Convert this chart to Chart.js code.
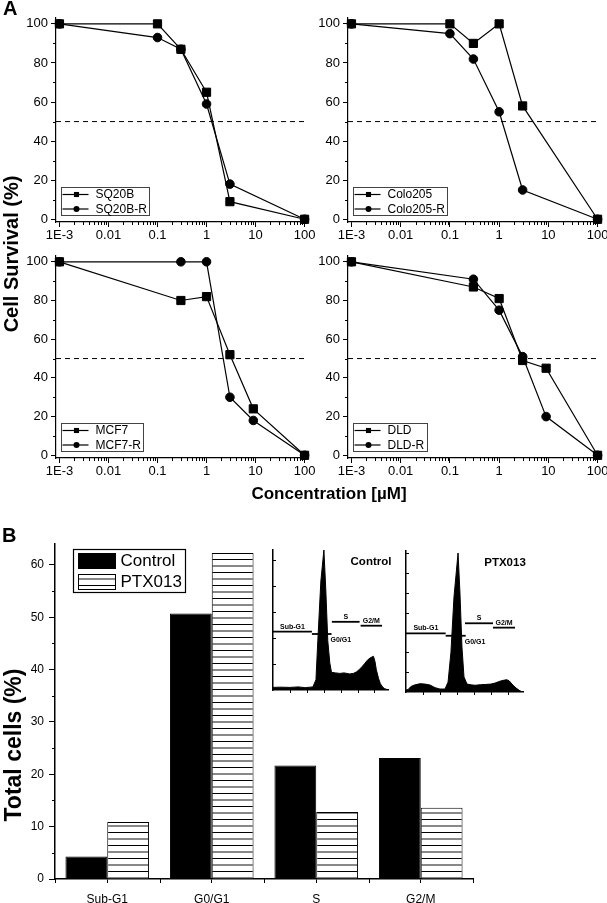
<!DOCTYPE html>
<html>
<head>
<meta charset="utf-8">
<script src="https://cdn.jsdelivr.net/npm/chart.js@4.4.0/dist/chart.umd.min.js"></script>
<style>
  body { margin: 0; background: #fff; }
  #page { position: relative; width: 607px; height: 903px; overflow: hidden; font-family: "Liberation Sans", Arial, sans-serif; }
  canvas { position: absolute; }
  .lbl { position: absolute; font-weight: bold; color: #000; white-space: nowrap; line-height: 1; }
  .rot { transform: translate(-50%, -50%) rotate(-90deg); }
  .ctr { transform: translate(-50%, -50%); }
</style>
</head>
<body>
<div id="page">
  <canvas id="a1" style="left:0;top:0" width="330" height="240"></canvas>
  <canvas id="a2" style="left:292px;top:0" width="330" height="240"></canvas>
  <canvas id="a3" style="left:0;top:238px" width="330" height="240"></canvas>
  <canvas id="a4" style="left:292px;top:238px" width="330" height="240"></canvas>
  <canvas id="b" style="left:0;top:520px" width="500" height="383"></canvas>
  <canvas id="insetControl" style="left:262px;top:540px" width="140" height="160"></canvas>
  <canvas id="insetPtx" style="left:396px;top:540px" width="140" height="160"></canvas>

  <div class="lbl" style="left:3px;top:-2px;font-size:20px">A</div>
  <div class="lbl" style="left:2px;top:525px;font-size:20px">B</div>
  <div class="lbl rot" style="left:11px;top:254px;font-size:20px">Cell Survival (%)</div>
  <div class="lbl ctr" style="left:329px;top:493px;font-size:17px">Concentration [µM]</div>
  <div class="lbl rot" style="left:13px;top:745px;font-size:23px">Total cells (%)</div>
</div>
<script>
// Panel A: survival curves
const logTicks = [0.001, 0.01, 0.1, 1, 10, 100];
const logTickLabels = ['1E-3', '0.01', '0.1', '1', '10', '100'];
const logMinorTicks = [0.002, 0.003, 0.004, 0.005, 0.006, 0.007, 0.008, 0.009,
  0.02, 0.03, 0.04, 0.05, 0.06, 0.07, 0.08, 0.09,
  0.2, 0.3, 0.4, 0.5, 0.6, 0.7, 0.8, 0.9,
  2, 3, 4, 5, 6, 7, 8, 9, 20, 30, 40, 50, 60, 70, 80, 90];
const survTicks = [0, 20, 40, 60, 80, 100];
const survMinorTicks = [10, 30, 50, 70, 90];
const halfLine = 50;

const sq20bConc = [0.001, 0.1, 0.3, 1, 3, 100];
const sq20b = [100, 100, 87, 65, 9, 0];
const sq20bR = [100, 93, 87, 59, 18, 0];

const colo205Conc = [0.001, 0.1, 0.3, 1, 3, 100];
const colo205 = [100, 100, 90, 100, 58, 0];
const colo205R = [100, 95, 82, 55, 15, 0];

const mcf7Conc = [0.001, 0.3, 1, 3, 9, 100];
const mcf7 = [100, 80, 82, 52, 24, 0];
const mcf7R = [100, 100, 100, 30, 18, 0];

const dldConc = [0.001, 0.3, 1, 3, 9, 100];
const dld = [100, 87, 81, 49, 45, 0];
const dldR = [100, 91, 75, 51, 20, 0];

// Panel B: cell cycle
const phases = ['Sub-G1', 'G0/G1', 'S', 'G2/M'];
const controlPct = [4.3, 50.7, 21.7, 23.1];
const ptxPct = [10.9, 62.3, 12.8, 13.6];
const pctTicks = [0, 10, 20, 30, 40, 50, 60];
const pctMinorTicks = [5, 15, 25, 35, 45, 55];
const catEdges = [-0.5, 0.5, 1.5, 2.5, 3.5];

// inset histograms (DNA content channel vs counts)
const controlBins = [0, 40, 100, 150, 190, 236, 254, 265, 283, 301, 312, 324, 336, 346, 370, 395, 420, 453, 475, 494, 512, 529, 545, 558, 575, 594, 603, 611, 624, 635, 648, 658, 680];
const controlCounts = [10, 11, 10, 12, 9, 12, 40, 190, 420, 540, 390, 190, 104, 68, 66, 64, 66, 62, 64, 70, 80, 92, 104, 115, 124, 130, 110, 78, 45, 24, 12, 6, 0];
const ptxBins = [0, 12, 29, 53, 83, 112, 142, 171, 200, 230, 248, 265, 283, 307, 318, 330, 342, 360, 385, 407, 440, 466, 500, 525, 545, 560, 580, 595, 610, 625, 649, 672, 688];
const ptxCounts = [10, 12, 28, 36, 42, 40, 35, 22, 15, 15, 50, 200, 480, 702, 505, 227, 76, 40, 36, 34, 37, 38, 40, 45, 52, 56, 60, 62, 55, 40, 20, 6, 0];
const controlGateStart = [0, 230, 348, 518];
const controlGateEnd = [230, 346, 512, 645];
const controlGateLevel = [225, 216, 263, 248];
const ptxGateStart = [0, 234, 348, 513];
const ptxGateEnd = [234, 352, 513, 643];
const ptxGateLevel = [296, 284, 347, 325];
const insetTicksX = [100, 200, 300, 400, 500, 600];
const controlTicksY = [100, 200, 300, 400, 500];
const ptxTicksY = [100, 200, 300, 400, 500, 600, 700];

const X_MIN = 8.5e-4, X_MAX = 102;
const Y_MIN = -1.4, Y_MAX = 103;
const FONT = '"Liberation Sans", Arial, Helvetica, sans-serif';

Chart.defaults.font.family = FONT;
Chart.defaults.color = '#000';
Chart.defaults.animation = false;

// small tick marks the axes don't draw themselves (minor / boundary / inward)
const extraTicks = {
  id: 'extraTicks',
  afterDraw(chart, args, opts) {
    const ctx = chart.ctx;
    ctx.save();
    ctx.strokeStyle = '#000';
    ctx.lineWidth = 1;
    (opts.list || []).forEach(t => {
      const scale = chart.scales[t.axis];
      t.values.forEach(v => {
        const p = Math.round(scale.getPixelForValue(v)) + 0.5;
        ctx.beginPath();
        if (scale.isHorizontal()) {
          ctx.moveTo(p, scale.top);
          ctx.lineTo(p, scale.top + t.len);
        } else {
          ctx.moveTo(scale.right, p);
          ctx.lineTo(scale.right - t.len, p);
        }
        ctx.stroke();
      });
    });
    ctx.restore();
  }
};

// boxed legend inside the plot, bottom left
const boxLegend = {
  id: 'boxLegend',
  afterDraw(chart, args, o) {
    if (!o.show) return;
    const ctx = chart.ctx, area = chart.chartArea;
    const items = chart.data.datasets.filter(d => d.label);
    ctx.save();
    ctx.font = '12px ' + FONT;
    const tw = Math.max(...items.map(d => ctx.measureText(d.label).width));
    const h = 28, w = Math.round(34 + tw + 3);
    const x0 = Math.round(area.left + 5) + 0.5;
    const y0 = Math.round(area.bottom - 7 - h) + 0.5;
    ctx.fillStyle = '#fff';
    ctx.fillRect(x0, y0, w, h);
    ctx.strokeStyle = '#444';
    ctx.lineWidth = 1;
    ctx.strokeRect(x0, y0, w, h);
    items.forEach((d, i) => {
      const cy = y0 + 7 + i * 14.5;
      ctx.strokeStyle = '#000';
      ctx.lineWidth = 1.2;
      ctx.beginPath();
      ctx.moveTo(x0 + 1, cy);
      ctx.lineTo(x0 + 27, cy);
      ctx.stroke();
      ctx.fillStyle = '#000';
      Chart.helpers.drawPoint(ctx, { pointStyle: d.pointStyle, radius: d.legendRadius, borderWidth: 0, rotation: 0 }, x0 + 15, cy);
      ctx.textBaseline = 'middle';
      ctx.textAlign = 'left';
      ctx.fillText(d.label, x0 + 34, cy + 0.5);
    });
    ctx.restore();
  }
};

// legend of the bar panel
const barLegend = {
  id: 'barLegend',
  afterDraw(chart, args, o) {
    if (!o.show) return;
    const ctx = chart.ctx, area = chart.chartArea;
    const x0 = Math.round(area.left + 18) + 0.5, y0 = Math.round(area.top + 5) + 0.5;
    ctx.save();
    ctx.fillStyle = '#fff';
    ctx.fillRect(x0, y0, 112, 43);
    ctx.strokeStyle = '#000';
    ctx.lineWidth = 1.2;
    ctx.strokeRect(x0, y0, 112, 43);
    ctx.font = '17px ' + FONT;
    chart.data.datasets.forEach((d, i) => {
      const sy = y0 + 4 + i * 21;
      ctx.fillStyle = d.backgroundColor;
      ctx.fillRect(x0 + 5, sy, 37, 15);
      ctx.strokeStyle = '#000';
      ctx.lineWidth = 1;
      ctx.strokeRect(x0 + 5, sy, 37, 15);
      ctx.fillStyle = '#000';
      ctx.textBaseline = 'middle';
      ctx.fillText(d.label, x0 + 47, sy + 8);
    });
    ctx.restore();
  }
};

// gate labels and title of the histogram insets
const insetText = {
  id: 'insetText',
  afterDatasetsDraw(chart, args, o) {
    if (!o.title) return;
    const ctx = chart.ctx, x = chart.scales.x, y = chart.scales.y, area = chart.chartArea;
    ctx.save();
    ctx.fillStyle = '#000';
    ctx.font = 'bold 7px ' + FONT;
    phases.forEach((name, i) => {
      const x0 = x.getPixelForValue(o.start[i]);
      const x1 = x.getPixelForValue(o.end[i]);
      const py = y.getPixelForValue(o.level[i]);
      if (i === 1) {
        ctx.textAlign = 'left';
        ctx.textBaseline = 'top';
        ctx.fillText(name, x1 - 1, py + 2.5);
      } else {
        ctx.textAlign = 'center';
        ctx.textBaseline = 'bottom';
        ctx.fillText(name, (x0 + x1) / 2, py - 1.5);
      }
    });
    ctx.font = 'bold 11.5px ' + FONT;
    ctx.textAlign = 'center';
    ctx.textBaseline = 'middle';
    ctx.fillText(o.title, area.right - o.titleDx, area.top + 12);
    ctx.restore();
  }
};

Chart.register(extraTicks, boxLegend, barLegend, insetText);

function survivalChart(id, conc, a, b, names, pad, xh) {
  const line = { borderColor: '#000', borderWidth: 1.2, pointBackgroundColor: '#000', pointBorderColor: '#000', pointBorderWidth: 1, clip: false, tension: 0 };
  return new Chart(document.getElementById(id), {
    type: 'line',
    data: {
      datasets: [
        Object.assign({ label: names[0], data: conc.map((x, i) => ({ x: x, y: a[i] })), pointStyle: 'rect', pointRadius: 5.8, legendRadius: 3.6 }, line),
        Object.assign({ label: names[1], data: conc.map((x, i) => ({ x: x, y: b[i] })), pointStyle: 'circle', pointRadius: 4.3, legendRadius: 3 }, line),
        { label: '', data: [{ x: X_MIN, y: halfLine }, { x: X_MAX, y: halfLine }], borderColor: '#000', borderWidth: 1, borderDash: [5, 4], pointRadius: 0 }
      ]
    },
    options: {
      responsive: false,
      devicePixelRatio: 1,
      layout: { padding: pad },
      plugins: {
        legend: { display: false },
        tooltip: { enabled: false },
        boxLegend: { show: true },
        extraTicks: { list: [{ axis: 'x', values: logMinorTicks, len: 3 }, { axis: 'y', values: survMinorTicks, len: 3 }] }
      },
      scales: {
        x: {
          type: 'logarithmic', min: X_MIN, max: X_MAX,
          afterBuildTicks: s => { s.ticks = logTicks.map(v => ({ value: v })); },
          afterFit: s => { s.height = xh; },
          ticks: { callback: (v, i) => logTickLabels[i], font: { size: 13 }, padding: 1, autoSkip: false, maxRotation: 0 },
          grid: { drawOnChartArea: false, tickLength: 5, tickColor: '#000' },
          border: { color: '#000', width: 1.2 }
        },
        y: {
          min: Y_MIN, max: Y_MAX,
          afterBuildTicks: s => { s.ticks = survTicks.map(v => ({ value: v })); },
          afterFit: s => { s.width = 56; },
          ticks: { font: { size: 13 }, padding: 3 },
          grid: { drawOnChartArea: false, tickLength: 5, tickColor: '#000' },
          border: { color: '#000', width: 1.2 }
        }
      }
    }
  });
}

survivalChart('a1', sq20bConc, sq20b, sq20bR, ['SQ20B', 'SQ20B-R'], { top: 18, right: 25, bottom: 0, left: 0 }, 18);
survivalChart('a2', colo205Conc, colo205, colo205R, ['Colo205', 'Colo205-R'], { top: 18, right: 24, bottom: 0, left: 0 }, 18);
survivalChart('a3', mcf7Conc, mcf7, mcf7R, ['MCF7', 'MCF7-R'], { top: 18, right: 25, bottom: 0, left: 0 }, 20);
survivalChart('a4', dldConc, dld, dldR, ['DLD', 'DLD-R'], { top: 18, right: 24, bottom: 0, left: 0 }, 20);

// striped fill for PTX013
const bCanvas = document.getElementById('b');
const tile = document.createElement('canvas');
tile.width = 8; tile.height = 13;
const tg = tile.getContext('2d');
tg.fillStyle = '#fff'; tg.fillRect(0, 0, 8, 13);
tg.fillStyle = '#000'; tg.fillRect(0, 0, 8, 1);
tg.fillStyle = '#888'; tg.fillRect(0, 6, 8, 2);
const stripes = bCanvas.getContext('2d').createPattern(tile, 'repeat');

new Chart(bCanvas, {
  type: 'bar',
  data: {
    labels: phases,
    datasets: [
      { label: 'Control', data: controlPct, backgroundColor: '#000', borderColor: '#000', borderWidth: 1, categoryPercentage: 0.8, barPercentage: 1 },
      { label: 'PTX013', data: ptxPct, backgroundColor: stripes, borderColor: '#000', borderWidth: 1, categoryPercentage: 0.8, barPercentage: 1 }
    ]
  },
  options: {
    responsive: false,
    devicePixelRatio: 1,
    layout: { padding: { top: 24, right: 27, bottom: 0, left: 0 } },
    plugins: {
      legend: { display: false },
      tooltip: { enabled: false },
      barLegend: { show: true },
      extraTicks: { list: [{ axis: 'x', values: catEdges, len: 4 }, { axis: 'y', values: pctMinorTicks, len: 3 }] }
    },
    scales: {
      x: {
        afterFit: s => { s.height = 24; },
        ticks: { font: { size: 12 }, padding: 9, maxRotation: 0 },
        grid: { offset: false, drawOnChartArea: false, tickLength: 4, tickColor: '#000' },
        border: { color: '#000', width: 1.5 }
      },
      y: {
        min: 0, max: 64,
        afterBuildTicks: s => { s.ticks = pctTicks.map(v => ({ value: v })); },
        afterFit: s => { s.width = 55; },
        ticks: { font: { size: 12 }, padding: 5 },
        grid: { drawOnChartArea: false, tickLength: 6, tickColor: '#000' },
        border: { color: '#000', width: 1.5 }
      }
    }
  }
});

function insetChart(id, bins, counts, gStart, gEnd, gLevel, title, o) {
  const gates = phases.map((p, i) => ({
    data: [{ x: gStart[i], y: gLevel[i] }, { x: gEnd[i], y: gLevel[i] }],
    borderColor: '#000', borderWidth: 1.8, pointRadius: 0
  }));
  return new Chart(document.getElementById(id), {
    type: 'line',
    data: {
      datasets: [{
        data: bins.map((x, i) => ({ x: x, y: counts[i] })),
        fill: 'origin', backgroundColor: '#000', borderColor: '#000', borderWidth: 1, pointRadius: 0, tension: 0
      }].concat(gates)
    },
    options: {
      responsive: false,
      devicePixelRatio: 1,
      layout: { padding: o.pad },
      plugins: {
        legend: { display: false },
        tooltip: { enabled: false },
        insetText: { title: title, start: gStart, end: gEnd, level: gLevel, titleDx: o.titleDx },
        extraTicks: { list: [{ axis: 'x', values: insetTicksX, len: 3 }, { axis: 'y', values: o.yTicks, len: -3 }] }
      },
      scales: {
        x: {
          type: 'linear', min: 0, max: o.xMax,
          afterFit: s => { s.height = o.xh; },
          ticks: { display: false },
          grid: { display: false },
          border: { color: '#000', width: 1.5 }
        },
        y: {
          min: 0, max: o.yMax,
          afterFit: s => { s.width = o.yw; },
          ticks: { display: false },
          grid: { display: false },
          border: { color: '#000', width: 1.5 }
        }
      }
    }
  });
}

insetChart('insetControl', controlBins, controlCounts, controlGateStart, controlGateEnd, controlGateLevel, 'Control',
  { pad: { top: 10, right: 14, bottom: 0, left: 0 }, xh: 10, yw: 11, xMax: 680, yMax: 540, yTicks: controlTicksY, titleDx: 17 });
insetChart('insetPtx', ptxBins, ptxCounts, ptxGateStart, ptxGateEnd, ptxGateLevel, 'PTX013',
  { pad: { top: 11, right: 13, bottom: 0, left: 0 }, xh: 8, yw: 10, xMax: 690, yMax: 712, yTicks: ptxTicksY, titleDx: 18 });
</script>
</body>
</html>
